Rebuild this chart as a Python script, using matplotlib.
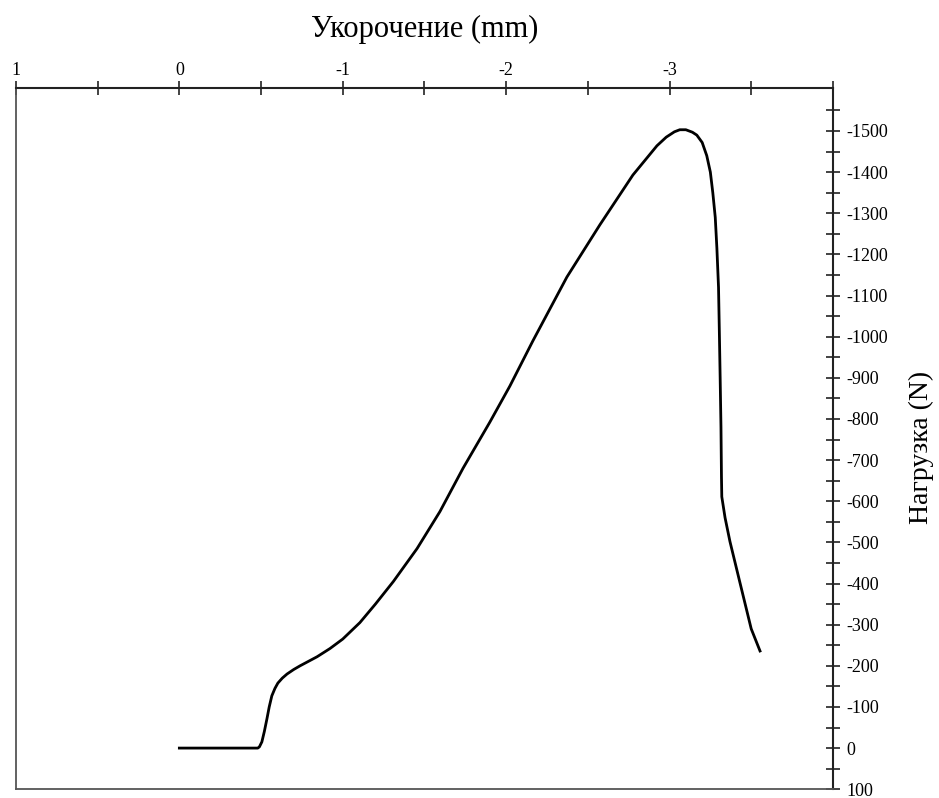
import numpy as np
import matplotlib
matplotlib.use('Agg')
from matplotlib import pyplot as plt
from matplotlib.ticker import FixedLocator

plt.rcParams['font.family'] = ['Liberation Serif', 'DejaVu Serif']
plt.rcParams['axes.unicode_minus'] = False

# shortening (mm) and load (N)
shortening = [0.0, -0.25, -0.48, -0.49, -0.505, -0.52, -0.536, -0.55, -0.566,
              -0.585, -0.603, -0.63, -0.659, -0.70, -0.739, -0.843, -0.922,
              -1.0, -1.105, -1.2, -1.31, -1.455, -1.595, -1.736, -1.9, -2.023,
              -2.164, -2.372, -2.574, -2.776, -2.923, -2.98, -3.03, -3.063,
              -3.10, -3.14, -3.167, -3.20, -3.228, -3.25, -3.265, -3.28, -3.29,
              -3.30, -3.305, -3.31, -3.315, -3.318, -3.32, -3.34, -3.37,
              -3.43, -3.50, -3.554]
load = [0, 0, 0, -3, -15, -40, -71, -100, -127,
        -145, -158, -170, -180, -191, -200, -222, -242,
        -265, -305, -350, -405, -485, -575, -680, -792, -880,
        -990, -1145, -1272, -1393, -1464, -1485, -1498, -1503,
        -1503, -1497, -1490, -1472, -1440, -1400, -1350, -1290, -1215,
        -1120, -1013, -900, -780, -660, -611, -560, -502,
        -404, -290, -236]

x_major = [1, 0, -1, -2, -3]
x_minor = [0.5, -0.5, -1.5, -2.5, -3.5, -4]
y_major = list(range(-1500, 101, 100))
y_minor = list(range(-1550, 100, 100))

fig = plt.figure(figsize=(9.39, 7.98), dpi=100)
ax = fig.add_axes([0.017, 0.011, 0.870, 0.879])

ax.plot(shortening, load, color='black', lw=2.0)

ax.set_xlim(1, -4)
ax.set_ylim(100, -1605)

ax.xaxis.tick_top()
ax.xaxis.set_label_position('top')
ax.yaxis.tick_right()
ax.yaxis.set_label_position('right')

ax.xaxis.set_major_locator(FixedLocator(x_major))
ax.xaxis.set_minor_locator(FixedLocator(x_minor))
ax.yaxis.set_major_locator(FixedLocator(y_major))
ax.yaxis.set_minor_locator(FixedLocator(y_minor))
ax.set_xticklabels([str(v) for v in x_major])
ax.set_yticklabels([str(v) for v in y_major])

ax.tick_params(which='both', direction='inout', length=10, width=1.2,
               color='#222222', labelsize=13, pad=1)
ax.tick_params(axis='y', which='both', pad=5)

for side in ['top', 'right']:
    ax.spines[side].set_linewidth(1.5)
    ax.spines[side].set_color('#222222')
for side in ['left', 'bottom']:
    ax.spines[side].set_linewidth(1.3)
    ax.spines[side].set_color('#555555')

ax.set_xlabel('Укорочение (mm)', fontsize=22, labelpad=18)
ax.set_ylabel('Нагрузка (N)', fontsize=20)
ax.yaxis.set_label_coords(1.093, 0.487)

fig.savefig('out.png', dpi=100)
